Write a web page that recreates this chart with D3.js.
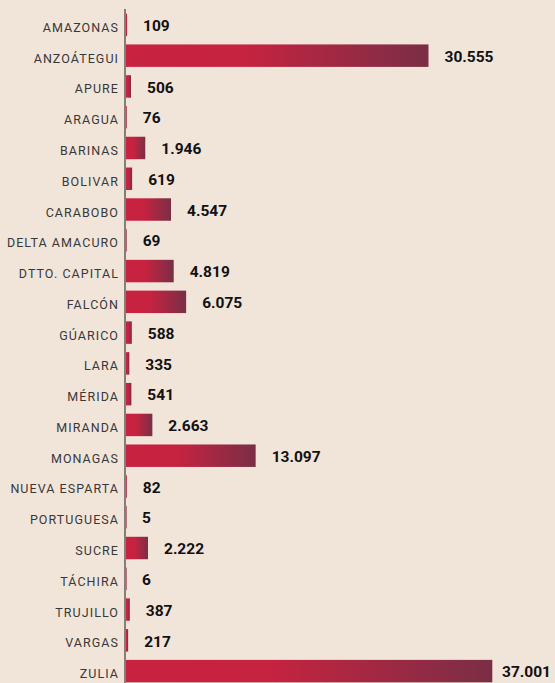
<!DOCTYPE html>
<html>
<head>
<meta charset="utf-8">
<script src="https://cdn.jsdelivr.net/npm/d3@7/dist/d3.min.js"></script>
<style>
  html, body { margin: 0; padding: 0; background: #F1E5DA; }
  svg { display: block; }
</style>
</head>
<body>
<div id="chart"></div>
<script>
const categories = ["AMAZONAS","ANZOÁTEGUI","APURE","ARAGUA","BARINAS","BOLIVAR","CARABOBO","DELTA AMACURO","DTTO. CAPITAL","FALCÓN","GÚARICO","LARA","MÉRIDA","MIRANDA","MONAGAS","NUEVA ESPARTA","PORTUGUESA","SUCRE","TÁCHIRA","TRUJILLO","VARGAS","ZULIA"];
const values = [109,30555,506,76,1946,619,4547,69,4819,6075,588,335,541,2663,13097,82,5,2222,6,387,217,37001];

const W = 555, H = 683;
const axisX = 125;
const fmt = v => d3.format(",")(v).replace(/,/g, ".");

const svg = d3.select("#chart").append("svg")
  .attr("width", W).attr("height", H);

svg.append("rect").attr("width", W).attr("height", H).attr("fill", "#F1E5DA");

const defs = svg.append("defs");
const grad = defs.append("linearGradient").attr("id", "barGrad")
  .attr("x1", "0%").attr("x2", "100%").attr("y1", "0%").attr("y2", "0%");
grad.append("stop").attr("offset", "0%").attr("stop-color", "#C82240");
grad.append("stop").attr("offset", "40%").attr("stop-color", "#C52340");
grad.append("stop").attr("offset", "100%").attr("stop-color", "#7A2E46");

const x = d3.scaleLinear().domain([0, 37001]).range([axisX + 1, 492.3]);
const y = d3.scaleBand().domain(categories).range([9.5, 686.5])
  .paddingInner(0.27).paddingOuter(0.135);

const data = categories.map((c, i) => ({ c, v: values[i] }));

const rows = svg.append("g").selectAll("g").data(data).join("g");

rows.append("rect")
  .attr("x", x(0))
  .attr("y", d => y(d.c))
  .attr("width", d => Math.max(0.6, x(d.v) - x(0)))
  .attr("height", y.bandwidth())
  .attr("fill", "url(#barGrad)");

// category labels via axis
const yAxis = d3.axisLeft(y).tickSize(0).tickPadding(7);
const ag = svg.append("g").attr("transform", `translate(${axisX},0)`).call(yAxis);
ag.select(".domain").remove();
ag.selectAll("text")
  .attr("font-family", "Roboto, 'Liberation Sans', sans-serif")
  .attr("font-size", 12.5)
  .attr("letter-spacing", "1.05px")
  .attr("fill", "#383838")
  .attr("dy", "0.56em")
  .attr("dx", "1px");

// vertical axis line
svg.append("line")
  .attr("x1", axisX).attr("x2", axisX)
  .attr("y1", 9).attr("y2", H)
  .attr("stroke", "#6b6560").attr("stroke-width", 1.6);

// value labels
const vl = rows.append("text")
  .attr("font-family", "Roboto, 'Liberation Sans', sans-serif")
  .attr("font-weight", 700)
  .attr("font-size", 15.5)
  .attr("fill", "#111")
  .attr("y", d => y(d.c) + y.bandwidth() / 2)
  .attr("dy", "0.4em")
  .text(d => fmt(d.v));
vl.attr("x", function(d) {
  const w = this.getComputedTextLength();
  return Math.min(x(d.v) + 16, W - w - 4);
});
</script>
</body>
</html>
